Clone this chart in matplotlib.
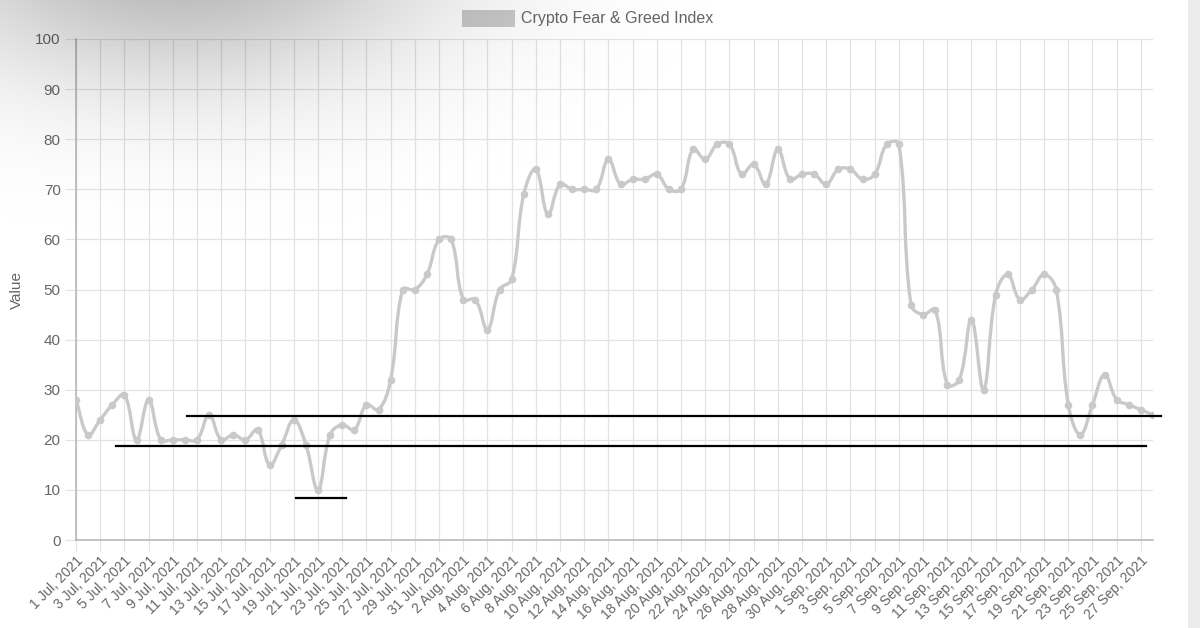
import numpy as np
import pandas as pd
import matplotlib
matplotlib.use("Agg")
import matplotlib.pyplot as plt
from matplotlib.path import Path
from matplotlib.patches import PathPatch, Rectangle

# daily index values, 1 Jul 2021 .. 28 Sep 2021
values = [28, 21, 24, 27, 29, 20, 28, 20, 20, 20,
          20, 25, 20, 21, 20, 22, 15, 19, 24, 19,
          10, 21, 23, 22, 27, 26, 32, 50, 50, 53,
          60, 60, 48, 48, 42, 50, 52, 69, 74, 65,
          71, 70, 70, 70, 76, 71, 72, 72, 73, 70,
          70, 78, 76, 79, 79, 73, 75, 71, 78, 72,
          73, 73, 71, 74, 74, 72, 73, 79, 79, 47,
          45, 46, 31, 32, 44, 30, 49, 53, 48, 50,
          53, 50, 27, 21, 27, 33, 28, 27, 26, 25]
start_date = "2021-07-01"
series_name = "Crypto Fear & Greed Index"

# hand drawn black lines on the screenshot: (level, x from, x to) in day units
marker_lines = [(24.75, 9.2, 89.7),
                (18.8, 3.3, 88.4),
                (8.4, 18.2, 22.3)]

dates = pd.date_range(start_date, periods=len(values), freq="D")
x = np.arange(len(values))
tick_pos = x[::2]
tick_labels = [f"{d.day} {d.strftime('%b')}, {d.year}" for d in dates[::2]]

plt.rcParams["font.family"] = ["Liberation Sans", "DejaVu Sans"]

W, H = 1200, 628
fig = plt.figure(figsize=(W / 100, H / 100), dpi=100)
fig.patch.set_facecolor("white")
ax = fig.add_axes([76 / W, 1 - 540 / H, (1153 - 76) / W, (540 - 39) / H])

grid_c = "#e3e3e3"
text_c = "#666666"
line_c = "#c9c9c9"

ax.set_xlim(0, len(values) - 1)
ax.set_ylim(0, 100)
ax.set_yticks(range(0, 101, 10))
ax.set_xticks(tick_pos)
ax.set_xticklabels(tick_labels, rotation=45, ha="right", rotation_mode="anchor",
                   fontsize=10, color=text_c)
ax.tick_params(axis="y", labelsize=11, labelcolor=text_c, length=8, color=grid_c, pad=3)
ax.tick_params(axis="x", length=8, color=grid_c, pad=2)
ax.grid(True, color=grid_c, linewidth=0.9)
ax.set_axisbelow(True)
for s in ["top", "right"]:
    ax.spines[s].set_visible(False)
for s in ["left", "bottom"]:
    ax.spines[s].set_color("#b3b3b3")
    ax.spines[s].set_linewidth(1.1)
fig.text(17 / W, 1 - 290 / H, "Value", rotation=90, fontsize=11, color=text_c,
         ha="center", va="center")

# chart.js style bezier (tension 0.4), control points worked out in pixels
pts = ax.transData.transform(np.column_stack([x, values]))
tension = 0.4
n = len(pts)
c_prev = pts.copy()
c_next = pts.copy()
for i in range(n):
    p0 = pts[i - 1] if i > 0 else pts[i]
    p2 = pts[i + 1] if i < n - 1 else pts[i]
    d01 = np.hypot(*(pts[i] - p0))
    d12 = np.hypot(*(p2 - pts[i]))
    tot = d01 + d12
    s01 = d01 / tot if tot else 0
    s12 = d12 / tot if tot else 0
    c_prev[i] = pts[i] - tension * s01 * (p2 - p0)
    c_next[i] = pts[i] + tension * s12 * (p2 - p0)
verts = [pts[0]]
codes = [Path.MOVETO]
for i in range(n - 1):
    verts += [c_next[i], c_prev[i + 1], pts[i + 1]]
    codes += [Path.CURVE4] * 3
inv = ax.transData.inverted()
path = Path(inv.transform(np.array(verts)), codes)
ax.add_patch(PathPatch(path, facecolor="none", edgecolor=line_c, linewidth=2.4,
                       capstyle="round", joinstyle="round", zorder=3))
ax.plot(x, values, linestyle="none", marker="o", markersize=5.5,
        color=line_c, markeredgewidth=0, zorder=4)

for level, x0, x1 in marker_lines:
    ax.plot([x0, x1], [level, level], color="black", linewidth=1.6,
            clip_on=False, zorder=5)

# legend like chart.js
fig.patches.append(Rectangle((462 / W, 1 - 27 / H), 53 / W, 17 / H,
                             transform=fig.transFigure, facecolor="#c9c9c9",
                             edgecolor="none"))
fig.text(521 / W, 1 - 18.5 / H, series_name, fontsize=11.5, color=text_c,
         va="center", ha="left")

# grey strip on the right edge of the screenshot
fig.patches.append(Rectangle((1188 / W, 0), 12 / W, 1, transform=fig.transFigure,
                             facecolor="#ececec", edgecolor="none", zorder=0))

# soft shadow in the top left corner
over = fig.add_axes([0, 0, 1, 1], zorder=10)
over.set_axis_off()
gx, gy = np.meshgrid(np.arange(W), np.arange(H))
dark = np.exp(-((gx - 180) / 260.0) ** 2 - ((gy + 60) / 140.0) ** 2)
rgba = np.zeros((H, W, 4))
rgba[..., 3] = 0.3 * dark
over.imshow(rgba, extent=[0, W, H, 0], aspect="auto", interpolation="bilinear")
over.set_xlim(0, W)
over.set_ylim(H, 0)

fig.savefig("out.png", dpi=100)
